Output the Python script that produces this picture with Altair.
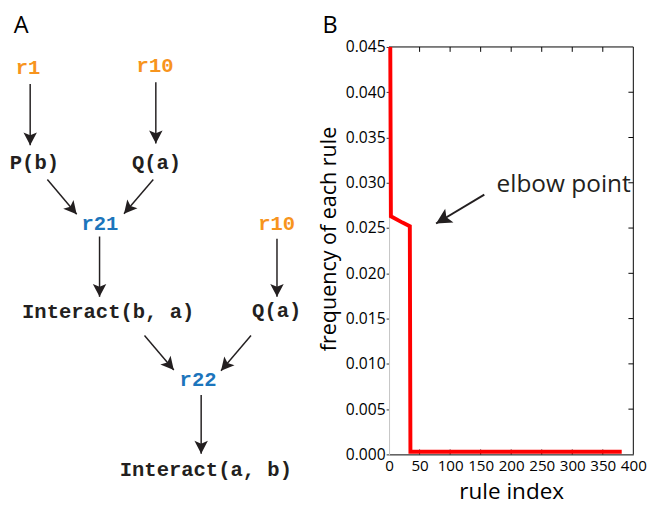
import math
import altair as alt
import pandas as pd

# ---------------- Panel A: derivation tree ----------------
node_label = ["r1", "r10", "P(b)", "Q(a)", "r21", "r10", "Interact(b, a)", "Q(a)", "r22", "Interact(a, b)"]
node_kind = ["given", "given", "fact", "fact", "derived", "given", "fact", "fact", "derived", "fact"]
node_x = [20.5, 150.5, 27, 152, 94, 275, 102.5, 275, 194.5, 202.5]
node_y = [56, 54, 153, 153, 215, 215, 305, 304, 375, 467]

edge_x1 = [22.7, 151.3, 40.3, 148.7, 93.7, 275.3, 139.7, 248.7, 197.7]
edge_y1 = [72, 70, 169.7, 169.7, 228, 230.3, 329.3, 329.3, 390.3]
edge_x2 = [22.7, 151.3, 70.3, 118.7, 93.7, 275.3, 169.7, 218, 197.7]
edge_y2 = [134.7, 132.7, 205.3, 204.7, 289.7, 289.7, 364.7, 365.3, 450.3]

# ---------------- Panel B: rule frequencies ----------------
rule_index = [2, 3, 22, 34, 35, 381]
rule_freq = [0.045, 0.0263, 0.0256, 0.0252, 0.0003, 0.0003]
x_ticks = [0, 50, 100, 150, 200, 250, 300, 350, 400]
y_ticks = [0.0, 0.005, 0.010, 0.015, 0.020, 0.025, 0.030, 0.035, 0.040, 0.045]
elbow_x1, elbow_y1, elbow_x2, elbow_y2 = [156], [0.0287], [77], [0.0255]
elbow_text = ["elbow point"]
elbow_tx, elbow_ty = [176], [0.0298]

INK = "#231f20"
ORANGE = "#f7941d"
BLUE = "#1c75bc"
MONO = "Liberation Mono"
SANS = "Open Sans"
ARROW = "M0,0 L-0.52,-1 L0,-0.78 L0.52,-1 Z"

# ---------- left panel ----------
WL, H = 300, 417
TOP = 34  # the plot areas start this far below the top of the figure
edges = pd.DataFrame({"x": edge_x1, "y": edge_y1, "x2": edge_x2, "y2": edge_y2})
edges["angle"] = [
    (math.degrees(math.atan2(-(b - a), (d - c))) + 360) % 360
    for a, b, c, d in zip(edge_x1, edge_x2, edge_y1, edge_y2)
]
nodes = pd.DataFrame({"label": node_label, "kind": node_kind, "x": node_x, "y": node_y})

lx = alt.Scale(domain=[0, WL], nice=False, zero=False)
ly = alt.Scale(domain=[TOP, TOP + H], nice=False, zero=False, reverse=True)

shafts = alt.Chart(edges).mark_rule(color=INK, strokeWidth=1.5).encode(
    x=alt.X("x:Q", scale=lx, axis=None), y=alt.Y("y:Q", scale=ly, axis=None),
    x2="x2:Q", y2="y2:Q")
heads = alt.Chart(edges).mark_point(shape=ARROW, filled=True, color=INK, opacity=1, size=700).encode(
    x=alt.X("x2:Q", scale=lx, axis=None), y=alt.Y("y2:Q", scale=ly, axis=None),
    angle=alt.Angle("angle:Q", scale=None))
labels = alt.Chart(nodes).mark_text(font=MONO, fontWeight="bold", fontSize=21,
                                     align="center", baseline="middle").encode(
    x=alt.X("x:Q", scale=lx, axis=None), y=alt.Y("y:Q", scale=ly, axis=None),
    text="label:N",
    color=alt.Color("kind:N", scale=alt.Scale(domain=["given", "derived", "fact"],
                                              range=[ORANGE, BLUE, INK]), legend=None))
tagA = alt.Chart(alt.Data(values=[{"t": "A"}])).mark_text(
    font=SANS, fontSize=24, align="left", baseline="middle", color="black").encode(
    x=alt.value(6), y=alt.value(-21.5), text="t:N")
left = alt.layer(shafts, heads, labels, tagA).properties(width=WL, height=H)

# ---------- right panel ----------
W = 250
xs = alt.Scale(domain=[0, 400], nice=False, zero=False)
ys = alt.Scale(domain=[0, 0.045], nice=False, zero=False)
x_axis = alt.Axis(values=x_ticks, format="d", title="rule index", ticks=False, grid=False,
                  domainColor="black", domainWidth=1, labelFontSize=15.5, labelPadding=4,
                  labelOverlap=False, labelFlush=False, labelColor="black",
                  titleFontSize=23, titleColor="black",
                  titleFontWeight="normal", titleY=45, titleBaseline="alphabetic",
                  labelFont=SANS, titleFont=SANS)
y_axis = alt.Axis(values=y_ticks, format=".3f", title="frequency of each rule", grid=False,
                  ticks=True, tickSize=3, tickColor="#333333", domainColor="#c4c4c4",
                  domainWidth=1, labelFontSize=16, labelPadding=1, labelColor="black",
                  labelOverlap=False,
                  titleFontSize=22, titleColor="black", titleFontWeight="normal",
                  titleX=-55, titleY=196, titleBaseline="alphabetic",
                  labelFont=SANS, titleFont=SANS)

curve = pd.DataFrame({"x": rule_index, "y": rule_freq})
line = alt.Chart(curve).mark_line(color="#ff0000", strokeWidth=4).encode(
    x=alt.X("x:Q", scale=xs, axis=x_axis), y=alt.Y("y:Q", scale=ys, axis=y_axis))

inner_x = pd.DataFrame({"x": [t for t in x_ticks if 0 < t < 400]})
inner_y = pd.DataFrame({"y": [t for t in y_ticks if 0 < t < 0.045]})
top_ticks = alt.Chart(inner_x).mark_rule(color="black", strokeWidth=1).encode(
    x=alt.X("x:Q", scale=xs, axis=x_axis), y=alt.value(0), y2=alt.value(5))
bot_ticks = alt.Chart(inner_x).mark_rule(color="black", strokeWidth=1).encode(
    x=alt.X("x:Q", scale=xs, axis=x_axis), y=alt.value(H - 5), y2=alt.value(H))
right_ticks = alt.Chart(inner_y).mark_rule(color="black", strokeWidth=1).encode(
    y=alt.Y("y:Q", scale=ys, axis=y_axis), x=alt.value(W - 5), x2=alt.value(W))
one = alt.Data(values=[{}])
top_line = alt.Chart(one).mark_rule(color="black", strokeWidth=1).encode(
    x=alt.value(0), x2=alt.value(W), y=alt.value(0))
right_line = alt.Chart(one).mark_rule(color="black", strokeWidth=1).encode(
    x=alt.value(W), y=alt.value(0), y2=alt.value(H))

elbow = pd.DataFrame({"x": elbow_x1, "y": elbow_y1, "x2": elbow_x2, "y2": elbow_y2})
elbow["angle"] = [
    (math.degrees(math.atan2(-(b - a) * W / 400, -(d - c) * H / 0.045)) + 360) % 360
    for a, b, c, d in zip(elbow_x1, elbow_x2, elbow_y1, elbow_y2)
]
e_shaft = alt.Chart(elbow).mark_rule(color=INK, strokeWidth=2).encode(
    x=alt.X("x:Q", scale=xs, axis=x_axis), y=alt.Y("y:Q", scale=ys, axis=y_axis),
    x2="x2:Q", y2="y2:Q")
e_head = alt.Chart(elbow).mark_point(shape=ARROW, filled=True, color=INK, opacity=1, size=1000).encode(
    x=alt.X("x2:Q", scale=xs, axis=x_axis), y=alt.Y("y2:Q", scale=ys, axis=y_axis),
    angle=alt.Angle("angle:Q", scale=None))
e_text = alt.Chart(pd.DataFrame({"t": elbow_text, "x": elbow_tx, "y": elbow_ty})).mark_text(
    font=SANS, fontSize=25, align="left", baseline="middle", color=INK).encode(
    x=alt.X("x:Q", scale=xs, axis=x_axis), y=alt.Y("y:Q", scale=ys, axis=y_axis), text="t:N")
tagB = alt.Chart(alt.Data(values=[{"t": "B"}])).mark_text(
    font=SANS, fontSize=24, align="left", baseline="middle", color="black").encode(
    x=alt.value(-68), y=alt.value(-21.5), text="t:N")

right = alt.layer(top_line, right_line, top_ticks, bot_ticks, right_ticks, line,
                  e_shaft, e_head, e_text, tagB).properties(width=W, height=H)

chart = alt.hconcat(left, right, spacing=16).properties(padding=0).configure_view(
    strokeWidth=0)

chart.save("out.html", embed_options={"renderer": "svg", "actions": False})
